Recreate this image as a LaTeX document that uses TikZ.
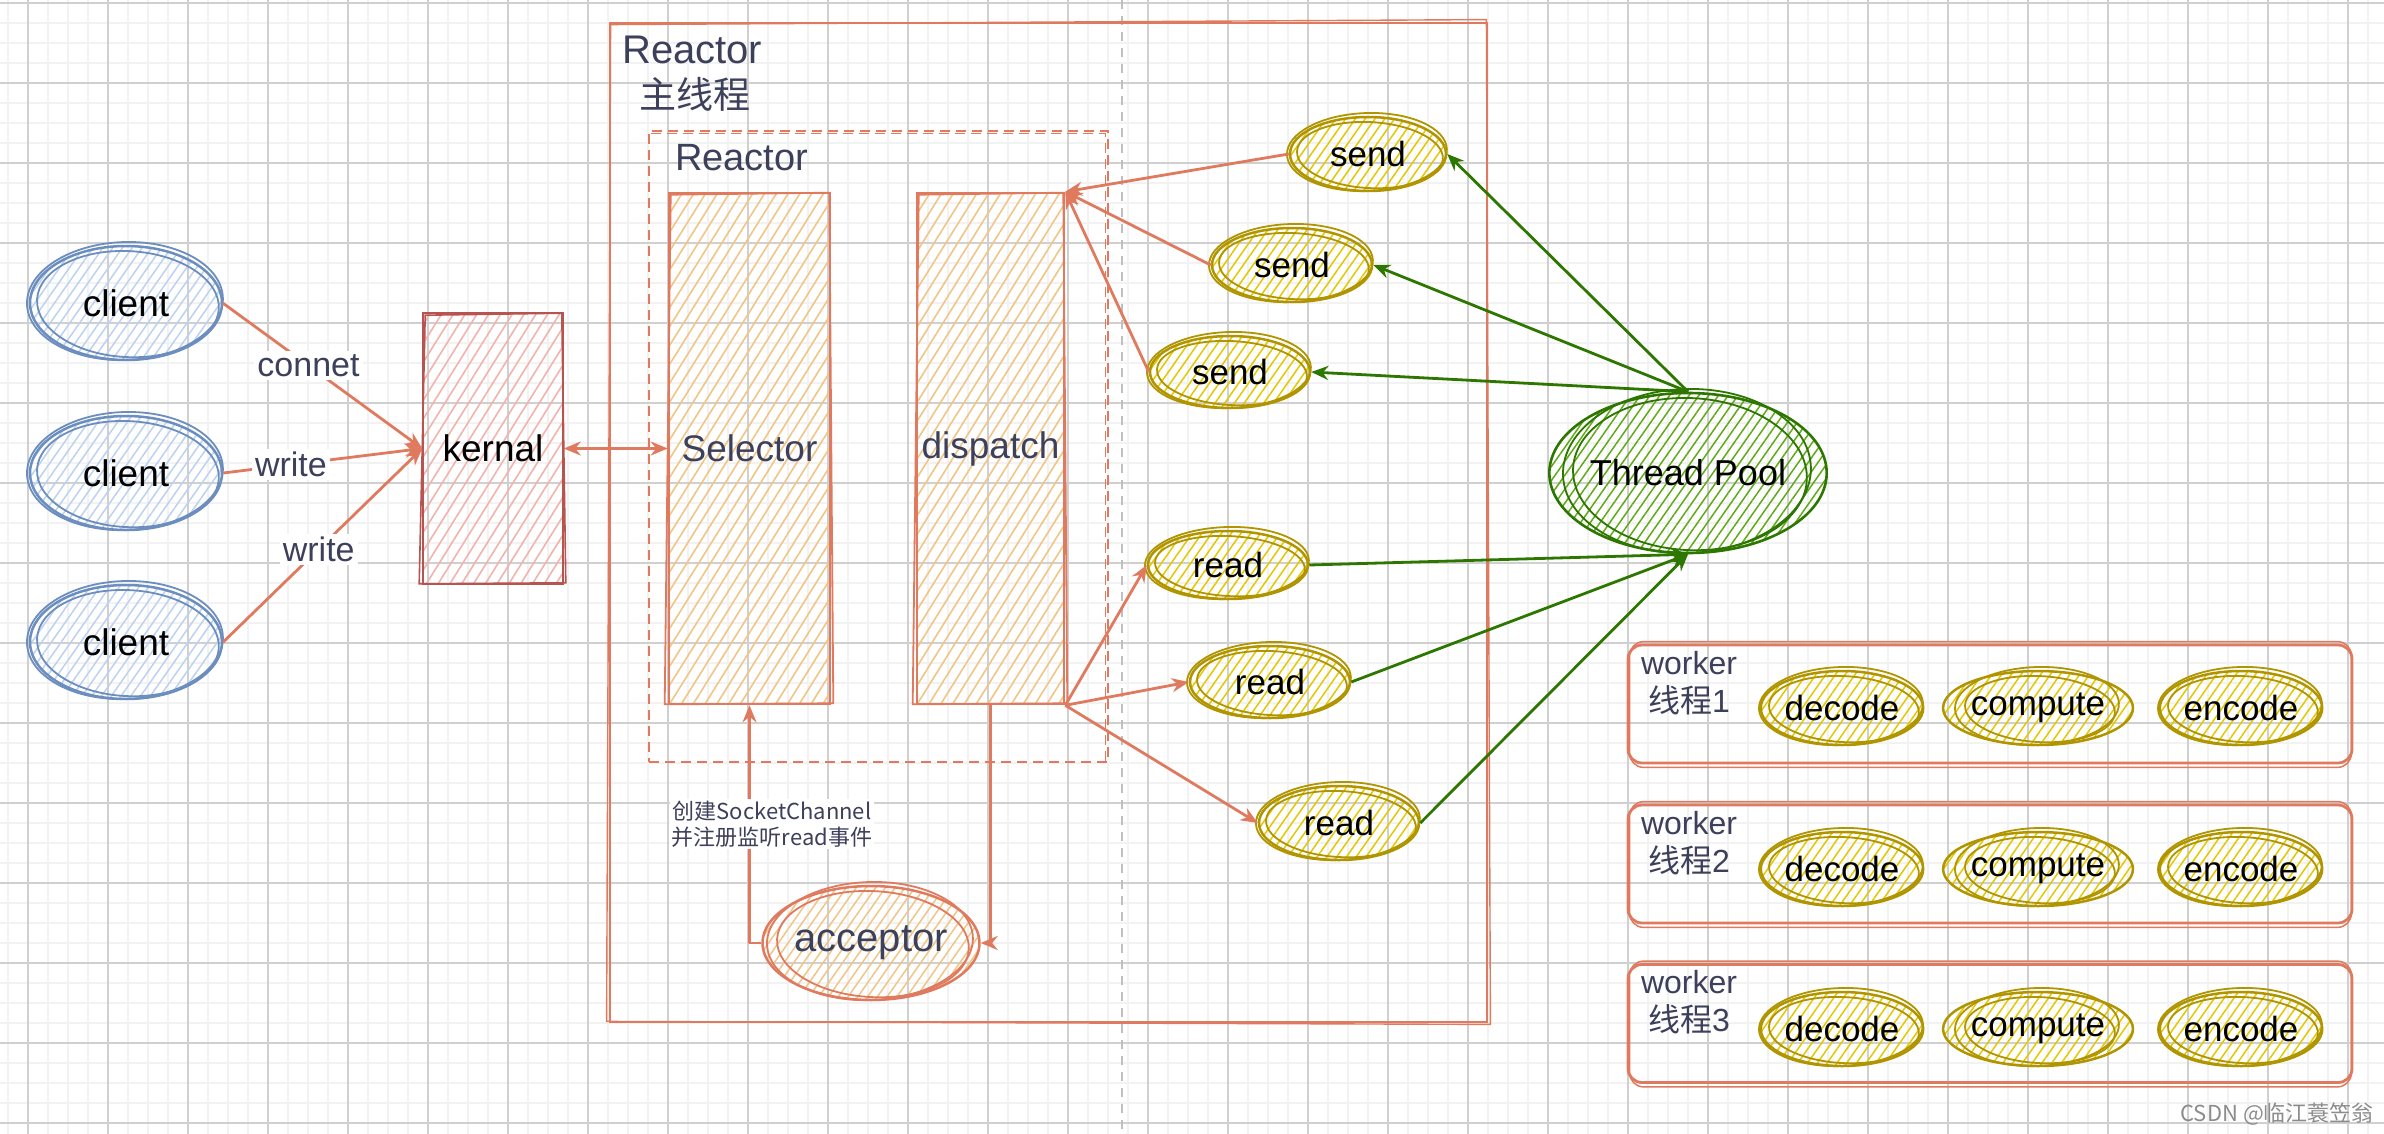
\documentclass[tikz,border=0pt]{standalone}
\usepackage{fontspec}
\setmainfont{Liberation Sans}
\newfontfamily\cjk{Noto Sans CJK SC}
\usetikzlibrary{arrows.meta,patterns.meta,shapes.geometric,calc}
\definecolor{sal}{HTML}{E07A5F}
\definecolor{salfill}{HTML}{F0C585}
\definecolor{tdark}{HTML}{3D405B}
\definecolor{bstroke}{HTML}{6C8EBF}
\definecolor{bhatch}{HTML}{BCD2F0}
\definecolor{kstroke}{HTML}{B85450}
\definecolor{khatch}{HTML}{F2B3AD}
\definecolor{ystroke}{HTML}{B09500}
\definecolor{yhatch}{HTML}{E3C800}
\definecolor{gstroke}{HTML}{2D7600}
\definecolor{ghatch}{HTML}{60A917}
\definecolor{gridmaj}{HTML}{D0D0D0}
\definecolor{gridmin}{HTML}{F2F2F2}
\newcommand\skell[8]{%
  \node[#6, minimum width={2*#4}, minimum height={2*#5}] (#1) at (#2,#3) {#8};
  \draw[#7, rotate around={-3:(#1.center)}] ([shift={(2,1)}]#1.center) ellipse [x radius={#4-5}, y radius={#5-4}];
  \draw[#7, rotate around={2:(#1.center)}] ([shift={(-1,-2)}]#1.center) ellipse [x radius={#4+2}, y radius={#5+2}];
}
\newcommand\skrect[8]{%
  \node[#6, minimum width={#4-#2}, minimum height={#5-#3}] (#1) at ({(#2+#4)/2},{(#3+#5)/2}) {#8};
  \draw[#7] ([shift={(3,3)}]#1.north west) -- ([shift={(-2,1)}]#1.north east) -- ([shift={(2,-2)}]#1.south east) -- ([shift={(-3,-1)}]#1.south west) -- cycle;
}
\begin{document}
\begin{tikzpicture}[x=1pt,y=-1pt,
  >={Stealth[open,length=17pt,width=14pt]},
  gridminor/.style={draw=gridmin, line width=2pt},
  gridmajor/.style={draw=gridmaj, line width=1.3pt},
  hatchE/.style={pattern={Lines[angle=55,distance=8pt,line width=1.5pt]}},
  hatchR/.style={pattern={Lines[angle=58,distance=10pt,line width=1.6pt]}},
  bnode/.style={ellipse, inner sep=0pt, draw=bstroke, line width=2.5pt, hatchE, pattern color=bhatch, text=black, font=\fontsize{37}{42}\selectfont},
  bring/.style={draw=bstroke, line width=1.8pt},
  ynode/.style={ellipse, inner sep=0pt, draw=ystroke, line width=2.5pt, hatchE, pattern color=yhatch, text=black, font=\fontsize{35}{42}\selectfont},
  yring/.style={draw=ystroke, line width=1.8pt},
  gnode/.style={ellipse, inner sep=0pt, draw=gstroke, line width=2.6pt, hatchE, pattern color=ghatch, text=black, font=\fontsize{36}{42}\selectfont},
  gring/.style={draw=gstroke, line width=1.8pt},
  onode/.style={ellipse, inner sep=0pt, draw=sal, line width=2.5pt, hatchE, pattern color=salfill, text=tdark, font=\fontsize{40}{46}\selectfont},
  oring/.style={draw=sal, line width=1.8pt},
  orect/.style={rectangle, inner sep=0pt, draw=sal, line width=2.6pt, hatchR, pattern color=salfill, text=tdark, font=\fontsize{37}{44}\selectfont},
  krect/.style={rectangle, inner sep=0pt, draw=kstroke, line width=2.6pt, hatchR, pattern color=khatch, text=black, font=\fontsize{37}{42}\selectfont},
  kring/.style={draw=kstroke, line width=1.6pt},
  conn/.style={draw=sal, line width=2.8pt, line join=round, ->},
  gconn/.style={draw=gstroke, line width=2.8pt, line join=round, ->},
  lbl/.style={fill=white, text=tdark, inner sep=3pt, font=\fontsize{34}{40}\selectfont},
  ann/.style={fill=white, align=center, text=tdark, inner sep=2pt, font=\cjk\fontsize{22}{26}\selectfont},
  wbox/.style={draw=sal, line width=2.8pt, rounded corners=14pt, minimum width=724, minimum height=118, inner sep=0pt},
  wring/.style={draw=sal, line width=1.5pt, rounded corners=14pt},
  wlbl/.style={align=center, text=tdark, inner sep=0pt, font=\fontsize{32}{38}\selectfont},
  title/.style={anchor=west, text=tdark, inner sep=0pt}
]
\useasboundingbox (0,0) rectangle (2384,1134);
\fill[white] (0,0) rectangle (2384,1134);
% grid
\foreach \x in {8,28,...,2384} \draw[gridminor] (\x,0) -- (\x,1134);
\foreach \y in {3,23,...,1134} \draw[gridminor] (0,\y) -- (2384,\y);
\foreach \x in {28,108,...,2384} \draw[gridmajor] (\x,0) -- (\x,1134);
\foreach \y in {3,83,...,1134} \draw[gridmajor] (0,\y) -- (2384,\y);
% gray dashed divider
\draw[draw=black!25, line width=2pt, dash pattern=on 9pt off 7pt] (1122,0) -- (1122,1134);

% outer Reactor box
\node[draw=sal, line width=2.8pt, minimum width=877, minimum height=999, inner sep=0pt] (outer) at (1048.5,522.5) {};
\draw[sal, line width=1.4pt] ([shift={(2,3)}]outer.north west) -- ([shift={(-2,-2)}]outer.north east) -- ([shift={(2,1)}]outer.south east) -- ([shift={(-2,-2)}]outer.south west) -- cycle;
\node[title, font=\fontsize{40}{46}\selectfont] (t1) at (622,50) {Reactor};
\node[title, font=\cjk\fontsize{37}{44}\selectfont] (t2) at (639,94) {主线程};

% inner dashed Reactor box
\node[draw=sal, line width=2.8pt, dash pattern=on 10pt off 6pt, minimum width=459, minimum height=631, inner sep=0pt] (inner) at (878.5,446.5) {};
\draw[sal, line width=1.5pt, dash pattern=on 10pt off 6pt] ([shift={(3,4)}]inner.north west) -- ([shift={(-4,4)}]inner.north east) -- ([shift={(-4,-2)}]inner.south east);
\node[title, font=\fontsize{38}{44}\selectfont] (t3) at (675,158) {Reactor};

% clients and kernal
\skell{c1}{126}{303}{96}{57}{bnode}{bring}{client}
\skell{c2}{126}{473}{96}{57}{bnode}{bring}{client}
\skell{c3}{126}{642}{96}{57}{bnode}{bring}{client}
\skrect{k}{423}{313}{563}{584}{krect}{kring}{kernal}

% selector, dispatch, acceptor
\skrect{sel}{669}{193}{830}{704}{orect}{oring}{Selector}
\skrect{disp}{917}{193}{1064}{704}{orect}{oring}{dispatch}
\skell{acc}{871}{943}{101}{57}{onode}{oring}{acceptor}

% send / read
\skell{s1}{1368}{154}{78}{37}{ynode}{yring}{send}
\skell{s2}{1292}{265}{80}{37}{ynode}{yring}{send}
\skell{s3}{1230}{372}{80}{36}{ynode}{yring}{send}
\skell{r1}{1228}{565}{80}{34}{ynode}{yring}{read}
\skell{r2}{1270}{682}{80}{36}{ynode}{yring}{read}
\skell{r3}{1339}{823}{80}{37}{ynode}{yring}{read}

% thread pool
\skell{tp}{1688}{473}{122}{80}{gnode}{gring}{Thread Pool}

% worker boxes
\node[wbox] (w1) at (1990,704) {};
\node[wbox] (w2) at (1990,864) {};
\node[wbox] (w3) at (1990,1023.5) {};
\foreach \w in {w1,w2,w3}
  \draw[wring] ([shift={(3,-2)}]\w.north west) rectangle ([shift={(-2,3)}]\w.south east);
\node[wlbl] (wl1) at (1689,683) {worker\\{\cjk 线程}1};
\node[wlbl] (wl2) at (1689,843) {worker\\{\cjk 线程}2};
\node[wlbl] (wl3) at (1689,1002) {worker\\{\cjk 线程}3};
\skell{d1}{1842}{708}{80}{37}{ynode}{yring}{decode}
\skell{m1}{2038}{708}{80}{37}{ynode}{yring}{compute}
\skell{e1}{2241}{708}{80}{37}{ynode}{yring}{encode}
\skell{d2}{1842}{869}{80}{37}{ynode}{yring}{decode}
\skell{m2}{2038}{869}{80}{37}{ynode}{yring}{compute}
\skell{e2}{2241}{869}{80}{37}{ynode}{yring}{encode}
\skell{d3}{1842}{1029}{80}{37}{ynode}{yring}{decode}
\skell{m3}{2038}{1029}{80}{37}{ynode}{yring}{compute}
\skell{e3}{2241}{1029}{80}{37}{ynode}{yring}{encode}

% connectors
\draw[conn] (c1.east) -- node[lbl, pos=0.43] (lc1) {connet} (k.west);
\draw[conn] (c2.east) -- node[lbl, pos=0.34] (lc2) {write} (k.west);
\draw[conn] (c3.east) -- node[lbl, pos=0.48] (lc3) {write} (k.west);
\draw[conn, <->] (k.east) -- (sel.west);
\draw[conn] (acc.west) -| (sel.south);
\draw[conn] (disp.south) |- (acc.east);
\node[ann] (annot) at (772,824) {创建SocketChannel\\并注册监听read事件};

\draw[conn] (s1.west) -- (disp.north east);
\draw[conn] (s2.west) -- (disp.north east);
\draw[conn] (s3.west) -- (disp.north east);
\draw[conn] (disp.south east) -- (r1.west);
\draw[conn] (disp.south east) -- (r2.west);
\draw[conn] (disp.south east) -- (r3.west);

\draw[gconn] (tp.north) -- (s1.east);
\draw[gconn] (tp.north) -- (s2.east);
\draw[gconn] (tp.north) -- (s3.east);
\draw[gconn] (r1.east) -- (tp.south);
\draw[gconn] (r2.east) -- (tp.south);
\draw[gconn] (r3.east) -- (tp.south);

% watermark
\node[anchor=east, text=black!45, inner sep=0pt, font=\cjk\fontsize{22}{26}\selectfont] (wm) at (2374,1114) {CSDN @临江蓑笠翁};
\end{tikzpicture}
\end{document}
